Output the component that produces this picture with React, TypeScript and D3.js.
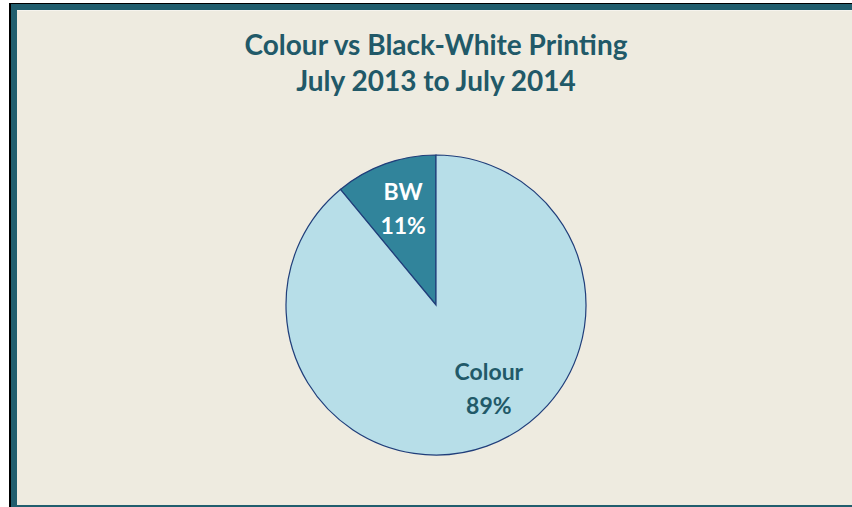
import React from "react";
import * as d3 from "d3";

const categories = ["BW", "Colour"];
const values = [11, 89];
const percentLabels = ["11%", "89%"];
const titleLines = ["Colour vs Black-White Printing", "July 2013 to July 2014"];

const W = 852;
const H = 507;
const fills = ["#31849B", "#B7DEE8"];
const labelColors = ["#FFFFFF", "#215968"];
const labelNudge = [[1, -4], [19, -12]];

export default function App() {
  const cx = 436, cy = 305, r = 150;
  const pie = d3.pie<number>().sort(null).startAngle(0).endAngle(-2 * Math.PI).value((d) => d);
  const arcs = pie(values);
  const arc = d3.arc<d3.PieArcDatum<number>>().innerRadius(0).outerRadius(r);
  const labelArc = d3.arc<d3.PieArcDatum<number>>().innerRadius(0).outerRadius(200);
  const font = "Lato, 'Open Sans', sans-serif";
  return (
    <svg width={W} height={H} style={{ position: "absolute", left: 0, top: 0 }}>
      <rect x={0} y={0} width={W} height={H} fill="#FFFFFF" />
      <rect x={9} y={3} width={W} height={H} fill="#000000" />
      <rect x={11} y={4} width={W} height={H} fill="#215E6E" />
      <rect x={17} y={10} width={W} height={495} fill="#EEEBE0" />
      <rect x={17} y={10} width={W} height={1} fill="#F6F4EE" />
      <g fontFamily={font} fontWeight="bold" fill="#215968" textAnchor="middle" fontSize={28}>
        {titleLines.map((t, i) => (
          <text key={t} x={436} y={55 + i * 36}>{t}</text>
        ))}
      </g>
      <g transform={`translate(${cx},${cy})`}>
        {arcs.map((a, i) => (
          <path key={categories[i]} d={arc(a) || ""} fill={fills[i]} stroke="#203E7A" strokeWidth={1.2} />
        ))}
        {arcs.map((a, i) => {
          const [x, y] = labelArc.centroid(a);
          const lx = x + labelNudge[i][0];
          return (
            <text key={"l" + i} x={lx} y={y + labelNudge[i][1]} fontFamily={font} fontWeight="bold" fontSize={23} fill={labelColors[i]} textAnchor="middle">
              <tspan x={lx} dy={-7}>{categories[i]}</tspan>
              <tspan x={lx} dy={34}>{percentLabels[i]}</tspan>
            </text>
          );
        })}
      </g>
    </svg>
  );
}
